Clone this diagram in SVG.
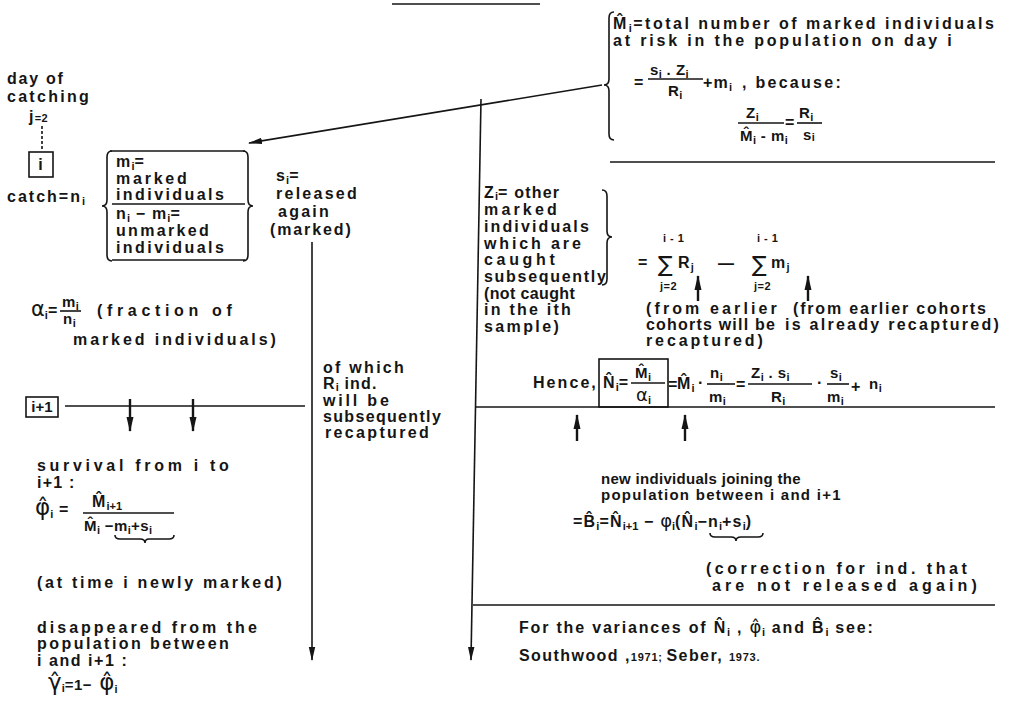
<svg xmlns="http://www.w3.org/2000/svg" width="1011" height="705" viewBox="0 0 1011 705">
<defs>
<style>
.t{font-family:"Liberation Sans",Arial,sans-serif;font-weight:bold;font-size:16px;fill:#151515;letter-spacing:1.2px}
.f{font-size:15px;letter-spacing:0.5px}
.sm{font-size:11px;letter-spacing:0.5px}
.sb{font-size:11px;letter-spacing:0}
.g{font-family:"DejaVu Sans",sans-serif;font-weight:normal;font-size:21px;letter-spacing:0}
.sig{font-family:"DejaVu Sans",sans-serif;font-weight:normal;font-size:22px;fill:#151515}
.ln{fill:none;stroke:#151515;stroke-width:1.6}
.th{stroke-width:2.4}
</style>
<marker id="ah" markerUnits="userSpaceOnUse" markerWidth="14" markerHeight="8" viewBox="0 0 14 8" refX="13" refY="4" orient="auto"><path d="M0,0.8 L14,4 L0,7.2 Z" fill="#151515"/></marker>
<marker id="ah2" markerUnits="userSpaceOnUse" markerWidth="15" markerHeight="8" viewBox="0 0 15 8" refX="14" refY="4" orient="auto"><path d="M0,0.5 L15,4 L0,7.5 Z" fill="#151515"/></marker>
</defs>
<rect width="1011" height="705" fill="#fff"/>

<g id="connectors" class="ln">
<line x1="392" y1="4" x2="540" y2="4"/>
<line x1="602" y1="85" x2="249" y2="143" marker-end="url(#ah)"/>
<line x1="312" y1="242" x2="312" y2="660" marker-end="url(#ah)"/>
<line x1="481" y1="99" x2="471" y2="660" marker-end="url(#ah)"/>
<line x1="42" y1="126" x2="42" y2="150" stroke-dasharray="3 2"/>
<line x1="65" y1="406" x2="305" y2="406"/>
<line class="th" x1="130" y1="399" x2="130" y2="431" marker-end="url(#ah2)"/>
<line class="th" x1="193" y1="399" x2="193" y2="431" marker-end="url(#ah2)"/>
<line x1="476" y1="407" x2="995" y2="407"/>
<line x1="610" y1="162" x2="995" y2="162"/>
<line x1="473" y1="605" x2="995" y2="605"/>
<line class="th" x1="577" y1="441" x2="577" y2="415" marker-end="url(#ah2)"/>
<line class="th" x1="685" y1="441" x2="685" y2="415" marker-end="url(#ah2)"/>
<line class="th" x1="698" y1="301" x2="698" y2="276" marker-end="url(#ah2)"/>
<line class="th" x1="808" y1="301" x2="808" y2="276" marker-end="url(#ah2)"/>
</g>

<g id="n-day" class="t">
<text x="7" y="84" textLength="57">day of</text>
<text x="7" y="102" textLength="83">catching</text>
<text x="29" y="122">j<tspan class="sm">=2</tspan></text>
</g>

<g id="n-box-i">
<rect x="29" y="152" width="24" height="25" class="ln"/>
<text class="t" x="41" y="170" text-anchor="middle">i</text>
</g>

<g id="n-catch" class="t">
<text x="7" y="202" textLength="78">catch=n<tspan class="sb" dy="3">i</tspan></text>
</g>

<g id="n-mbox">
<path class="ln" d="M112 151 Q107 151 107 157 L107 200 Q107 206 102 206 Q107 206 107 212 L107 255 Q107 261 112 261"/>
<path class="ln" d="M243 151 Q248 151 248 157 L248 200 Q248 206 253 206 Q248 206 248 212 L248 255 Q248 261 243 261"/>
<line class="ln" x1="110" y1="151" x2="245" y2="151"/>
<line class="ln" x1="112" y1="204" x2="245" y2="204"/>
<line class="ln" x1="112" y1="260" x2="245" y2="260"/>
<g class="t">
<text x="116" y="167">m<tspan class="sb" dy="3">i</tspan><tspan dy="-3">=</tspan></text>
<text x="116" y="184" textLength="72">marked</text>
<text x="116" y="200" textLength="109">individuals</text>
<text x="116" y="219">n<tspan class="sb" dy="3">i</tspan><tspan dy="-3"> − m</tspan><tspan class="sb" dy="3">i</tspan><tspan dy="-3">=</tspan></text>
<text x="116" y="236" textLength="94">unmarked</text>
<text x="116" y="253" textLength="109">individuals</text>
</g>
</g>

<g id="n-released" class="t">
<text x="276" y="181">s<tspan class="sb" dy="3">i</tspan><tspan dy="-3">=</tspan></text>
<text x="276" y="199" textLength="82">released</text>
<text x="278" y="217" textLength="52">again</text>
<text x="270" y="235" textLength="82">(marked)</text>
</g>

<g id="n-alpha" class="t">
<text x="31" y="316"><tspan class="g">α</tspan><tspan class="sb" dy="3">i</tspan><tspan dy="-3">=</tspan></text>
<text class="t f" x="62" y="307">m<tspan class="sb" dy="3">i</tspan></text>
<line class="ln" x1="60" y1="311" x2="81" y2="311"/>
<text class="t f" x="63" y="324">n<tspan class="sb" dy="3">i</tspan></text>
<text x="97" y="316" textLength="136">(fraction of</text>
<text x="73" y="345" textLength="204">marked individuals)</text>
</g>

<g id="n-iplus1">
<rect x="26" y="397" width="32" height="20" class="ln"/>
<text class="t" x="42" y="412" text-anchor="middle" style="font-size:15px;letter-spacing:0">i+1</text>
</g>

<g id="n-ofwhich" class="t">
<text x="323" y="373" textLength="82">of which</text>
<text x="323" y="389">R<tspan class="sb" dy="2">i</tspan><tspan dy="-2"> ind.</tspan></text>
<text x="323" y="406" textLength="67">will be</text>
<text x="323" y="422" textLength="119">subsequently</text>
<text x="325" y="438" textLength="105">recaptured</text>
</g>

<g id="n-survival" class="t">
<text x="37" y="471" textLength="193">survival from i to</text>
<text x="37" y="488">i+1 :</text>
<text x="35" y="515"><tspan class="g" style="font-size:23px">φ̂</tspan><tspan class="sb" dy="3">i</tspan><tspan dy="-3"> =</tspan></text>
<text class="t" x="92" y="507">M̂<tspan class="sb" dy="3">i+1</tspan></text>
<line class="ln" x1="83" y1="513" x2="174" y2="513"/>
<text class="t f" x="84" y="531">M̂<tspan class="sb" dy="3">i</tspan><tspan dy="-3"> −m</tspan><tspan class="sb" dy="3">i</tspan><tspan dy="-3">+s</tspan><tspan class="sb" dy="3">i</tspan></text>
<path class="ln" d="M115 535 Q115 539 120 539 L140 539 Q145 539 145 543 Q145 539 149 539 L169 539 Q174 539 174 535"/>
<text x="37" y="588" textLength="246">(at time i newly marked)</text>
<text x="37" y="633" textLength="221">disappeared from the</text>
<text x="37" y="649" textLength="193">population between</text>
<text x="37" y="666" textLength="91">i and i+1 :</text>
<text x="48" y="690"><tspan class="g" style="font-size:23px">γ̂</tspan><tspan class="sb" dy="2">i</tspan><tspan class="f" dy="-2">=1−</tspan><tspan class="g" style="font-size:23px"> φ̂</tspan><tspan class="sb" dy="3">i</tspan></text>
</g>

<g id="n-Mhat">
<path class="ln" d="M614 12 Q609 12 609 18 L609 79 Q609 85 604 85 Q609 85 609 91 L609 134 Q609 140 614 140"/>
<g class="t">
<text x="613" y="29" textLength="382">M̂<tspan class="sb" dy="3">i</tspan><tspan dy="-3">=total number of marked individuals</tspan></text>
<text x="613" y="46" textLength="340">at risk in the population on day i</text>
<text x="634" y="88">=</text>
<text class="t f" x="650" y="75">s<tspan class="sb" dy="3">i</tspan><tspan dy="-3"> . Z</tspan><tspan class="sb" dy="3">i</tspan></text>
<line class="ln" x1="648" y1="79" x2="703" y2="79"/>
<text class="t f" x="668" y="96">R<tspan class="sb" dy="3">i</tspan></text>
<text x="703" y="88">+m<tspan class="sb" dy="3">i</tspan></text>
<text x="742" y="88" textLength="100">, because:</text>
<text class="t f" x="746" y="118">Z<tspan class="sb" dy="3">i</tspan></text>
<line class="ln" x1="738" y1="123" x2="784" y2="123"/>
<text class="t f" x="740" y="141">M̂<tspan class="sb" dy="3">i</tspan><tspan dy="-3"> - m</tspan><tspan class="sb" dy="3">i</tspan></text>
<text x="785" y="128">=</text>
<text class="t f" x="799" y="118">R<tspan class="sb" dy="3">i</tspan></text>
<line class="ln" x1="797" y1="123" x2="822" y2="123"/>
<text class="t f" x="803" y="140">s<tspan class="sb" dy="1">i</tspan></text>
</g>
</g>

<g id="n-Z" class="t">
<text x="484" y="198">Z<tspan class="sb" dy="2">i</tspan><tspan dy="-2">= other</tspan></text>
<text x="484" y="215" textLength="74">marked</text>
<text x="484" y="232" textLength="106">individuals</text>
<text x="484" y="249" textLength="98">which are</text>
<text x="484" y="265" textLength="72">caught</text>
<text x="484" y="282" textLength="123">subsequently</text>
<text x="484" y="299" textLength="92">(not caught</text>
<text x="484" y="315" textLength="88">in the ith</text>
<text x="484" y="332" textLength="76">sample)</text>
<path class="ln" d="M602 190 Q607 190 607 196 L607 231 Q607 237 612 237 Q607 237 607 243 L607 279 Q607 285 602 285"/>
</g>

<g id="n-sums" class="t">
<text x="638" y="268">=</text>
<text class="sig" x="658" y="272">∑</text>
<text class="sm" x="663" y="242">i - 1</text>
<text class="sm" x="660" y="290">j=2</text>
<text x="678" y="268">R<tspan class="sb" dy="3">j</tspan></text>
<text x="718" y="269">—</text>
<text class="sig" x="752" y="272">∑</text>
<text class="sm" x="757" y="242">i - 1</text>
<text class="sm" x="754" y="290">j=2</text>
<text x="771" y="268">m<tspan class="sb" dy="3">j</tspan></text>
<text x="646" y="314" textLength="132">(from earlier</text>
<text x="646" y="330" textLength="130">cohorts will be</text>
<text x="646" y="346" textLength="118">recaptured)</text>
<text x="793" y="314" textLength="194">(from earlier cohorts</text>
<text x="785" y="330" textLength="215">is already recaptured)</text>
</g>

<g id="n-hence">
<rect x="599" y="359" width="69" height="48" class="ln"/>
<g class="t">
<text x="533" y="388" textLength="64">Hence,</text>
<text x="603" y="388">N̂<tspan class="sb" dy="3">i</tspan><tspan dy="-3">=</tspan></text>
<text class="t f" x="635" y="378">M̂<tspan class="sb" dy="3">i</tspan></text>
<line class="ln" x1="631" y1="383" x2="665" y2="383"/>
<text class="t f" x="636" y="401"><tspan class="g" style="font-size:18px">α</tspan><tspan class="sb" dy="3">i</tspan></text>
<text x="668" y="390">=</text>
<text x="677" y="389">M̂<tspan class="sb" dy="3">i</tspan></text>
<text x="698" y="388">·</text>
<text class="t f" x="710" y="378">n<tspan class="sb" dy="3">i</tspan></text>
<line class="ln" x1="707" y1="384" x2="735" y2="384"/>
<text class="t f" x="709" y="402">m<tspan class="sb" dy="3">i</tspan></text>
<text x="736" y="390">=</text>
<text class="t f" x="751" y="378">Z<tspan class="sb" dy="3">i</tspan><tspan dy="-3"> . s</tspan><tspan class="sb" dy="3">i</tspan></text>
<line class="ln" x1="748" y1="384" x2="812" y2="384"/>
<text class="t f" x="771" y="402">R<tspan class="sb" dy="3">i</tspan></text>
<text x="817" y="388">·</text>
<text class="t f" x="830" y="378">s<tspan class="sb" dy="3">i</tspan></text>
<line class="ln" x1="827" y1="384" x2="849" y2="384"/>
<text class="t f" x="827" y="402">m<tspan class="sb" dy="3">i</tspan></text>
<text x="851" y="392">+</text>
<text class="t f" x="869" y="389">n<tspan class="sb" dy="3">i</tspan></text>
</g>
</g>

<g id="n-newind" class="t">
<text x="601" y="484" textLength="200" style="font-size:15px;letter-spacing:0.5px">new individuals joining the</text>
<text x="601" y="500" textLength="240" style="font-size:15px;letter-spacing:0.5px">population between i and i+1</text>
<text x="573" y="527">=B̂<tspan class="sb" dy="3">i</tspan><tspan dy="-3">=N̂</tspan><tspan class="sb" dy="3">i+1</tspan><tspan dy="-3"> − </tspan><tspan class="g" style="font-size:18px">φ</tspan><tspan class="sb" dy="3">i</tspan><tspan dy="-3">(N̂</tspan><tspan class="sb" dy="3">i</tspan><tspan dy="-3">−n</tspan><tspan class="sb" dy="3">i</tspan><tspan dy="-3">+s</tspan><tspan class="sb" dy="3">i</tspan><tspan dy="-3">)</tspan></text>
<path class="ln" d="M710 533 Q710 537 715 537 L731 537 Q736 537 736 541 Q736 537 741 537 L758 537 Q763 537 763 533"/>
</g>

<g id="n-correction" class="t">
<text x="706" y="574" textLength="262">(correction for ind. that</text>
<text x="712" y="591" textLength="266">are not released again)</text>
</g>

<g id="n-variances" class="t">
<text x="519" y="633" textLength="355">For the variances of N̂<tspan class="sb" dy="3">i</tspan><tspan dy="-3"> , </tspan><tspan class="g" style="font-size:18px">φ̂</tspan><tspan class="sb" dy="3">i</tspan><tspan dy="-3"> and B̂</tspan><tspan class="sb" dy="3">i</tspan><tspan dy="-3"> see:</tspan></text>
<text x="519" y="661" textLength="241">Southwood ,<tspan class="sm">1971; </tspan>Seber, <tspan class="sm">1973.</tspan></text>
</g>
</svg>
